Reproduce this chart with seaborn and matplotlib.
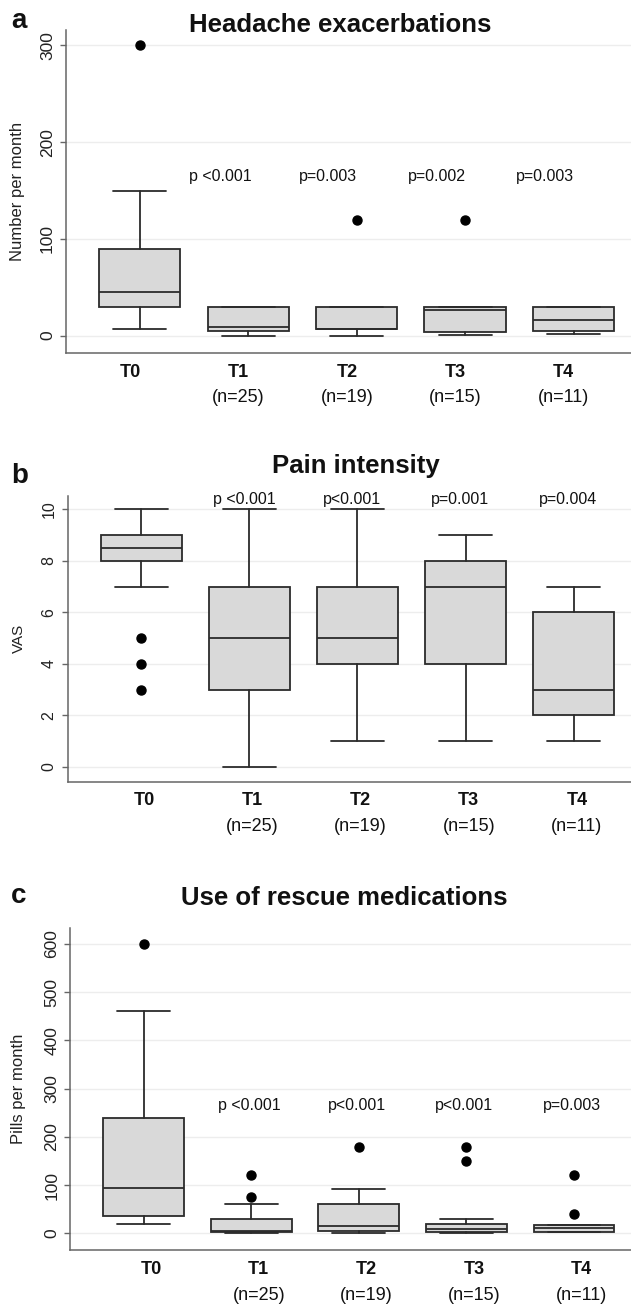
import matplotlib
matplotlib.use("Agg")
import matplotlib.pyplot as plt
import seaborn as sns

# time points and sample sizes
groups = ["T0", "T1", "T2", "T3", "T4"]
n_labels = ["", "(n=25)", "(n=19)", "(n=15)", "(n=11)"]

# a) headache exacerbations, number per month
head_wlo = [7, 0, 0, 1, 2]
head_q1 = [30, 5, 7, 4, 5]
head_med = [45, 9, 7, 26, 16]
head_q3 = [90, 30, 30, 30, 30]
head_whi = [150, 30, 30, 30, 30]
head_fliers = [[300], [], [120], [120], []]
head_p = ["p <0.001", "p=0.003", "p=0.002", "p=0.003"]

# b) pain intensity, VAS
vas_wlo = [7, 0, 1, 1, 1]
vas_q1 = [8, 3, 4, 4, 2]
vas_med = [8.5, 5, 5, 7, 3]
vas_q3 = [9, 7, 7, 8, 6]
vas_whi = [10, 10, 10, 9, 7]
vas_fliers = [[5, 4, 3], [], [], [], []]
vas_p = ["p <0.001", "p<0.001", "p=0.001", "p=0.004"]

# c) rescue medications, pills per month
pill_wlo = [19, 0, 0, 0, 2]
pill_q1 = [35, 3, 5, 3, 3]
pill_med = [95, 5, 16, 8, 11]
pill_q3 = [240, 30, 60, 20, 17]
pill_whi = [460, 60, 92, 30, 17]
pill_fliers = [[600], [120, 75], [180], [180, 150], [120, 40]]
pill_p = ["p <0.001", "p<0.001", "p<0.001", "p=0.003"]

sns.set_theme(style="whitegrid")
plt.rcParams['font.family'] = ['Liberation Sans', 'DejaVu Sans']

fig = plt.figure(figsize=(6.31, 13.09), dpi=100)

line = dict(color='#2b2b2b', linewidth=1.3)


def panel(rect, wlo, q1, med, q3, whi, fliers, pvals, p_y, p_off, lab_off,
          ylim, yticks, ylabel, ylab_x, title, title_xy, letter, letter_y,
          tick_size=12.5, ylab_size=12):
    ax = fig.add_axes(rect)
    stats = [dict(whislo=wlo[i], q1=q1[i], med=med[i], q3=q3[i], whishi=whi[i],
                  fliers=fliers[i]) for i in range(len(groups))]
    ax.bxp(stats, positions=range(len(groups)), widths=0.75, capwidths=0.49,
           patch_artist=True,
           boxprops=dict(facecolor='#d9d9d9', edgecolor='#2b2b2b', linewidth=1.3),
           medianprops=line, whiskerprops=line, capprops=line,
           flierprops=dict(marker='o', markerfacecolor='black', markeredgecolor='black',
                           markersize=6.5))
    ax.set_xlim(-0.68, 4.53)
    ax.set_ylim(*ylim)
    ax.set_yticks(yticks)
    ax.set_xticks([])
    ax.xaxis.grid(False)
    ax.yaxis.grid(True, color='#ededed', linewidth=1)
    for s in ['top', 'right']:
        ax.spines[s].set_visible(False)
    for s in ['left', 'bottom']:
        ax.spines[s].set_color('#666666')
        ax.spines[s].set_linewidth(1.1)
    ax.tick_params(axis='y', left=True, length=4.3, width=1, color='#666666', pad=3.6,
                   labelsize=tick_size, labelcolor='#222222', labelrotation=90)
    for t in ax.get_yticklabels():
        t.set_va('center')
    ax.set_ylabel(ylabel, fontsize=ylab_size, color='#222222', va='center')
    ax.yaxis.set_label_coords(ylab_x, 0.5)
    for i, g in enumerate(groups):
        ax.annotate(g, xy=(i + lab_off, 0), xycoords=('data', 'axes fraction'),
                    xytext=(0, -13.7), textcoords='offset points', ha='center', va='center',
                    fontsize=13, fontweight='bold', color='#111111')
        if n_labels[i]:
            ax.annotate(n_labels[i], xy=(i + lab_off, 0), xycoords=('data', 'axes fraction'),
                        xytext=(0, -32.4), textcoords='offset points', ha='center', va='center',
                        fontsize=13, color='#111111')
    for i, p in enumerate(pvals):
        ax.text(i + 1 + p_off, p_y, p, ha='center', va='center', fontsize=11.5, color='#111111')
    fig.text(title_xy[0], title_xy[1], title, ha='center', va='baseline',
             fontsize=18.5, fontweight='bold', color='#111111')
    fig.text(0.0174, letter_y, letter, ha='left', va='baseline',
             fontsize=20, fontweight='bold', color='#111111')
    return ax


H = 1309.0
W = 631.0

panel([66 / W, 1 - 353 / H, 565 / W, 323 / H],
      head_wlo, head_q1, head_med, head_q3, head_whi, head_fliers, head_p,
      164, -0.26, -0.09, (-18, 316), [0, 100, 200, 300], 'Number per month', -0.086,
      'Headache exacerbations', (340 / W, 1 - 31.7 / H), 'a', 1 - 28.3 / H)

panel([67.6 / W, 1 - 781.7 / H, 563.4 / W, 285.7 / H],
      vas_wlo, vas_q1, vas_med, vas_q3, vas_whi, vas_fliers, vas_p,
      10.37, -0.05, 0.03, (-0.58, 10.52), [0, 2, 4, 6, 8, 10], 'VAS', -0.086,
      'Pain intensity', (356 / W, 1 - 473.3 / H), 'b', 1 - 483.3 / H,
      tick_size=11.5, ylab_size=11)

panel([70.4 / W, 1 - 1250 / H, 560.6 / W, 321.7 / H],
      pill_wlo, pill_q1, pill_med, pill_q3, pill_whi, pill_fliers, pill_p,
      266, -0.02, 0.07, (-34.6, 632.5), [0, 100, 200, 300, 400, 500, 600], 'Pills per month',
      -0.093, 'Use of rescue medications', (344 / W, 1 - 905 / H), 'c', 1 - 903.3 / H)

fig.savefig('out.png', dpi=100)
